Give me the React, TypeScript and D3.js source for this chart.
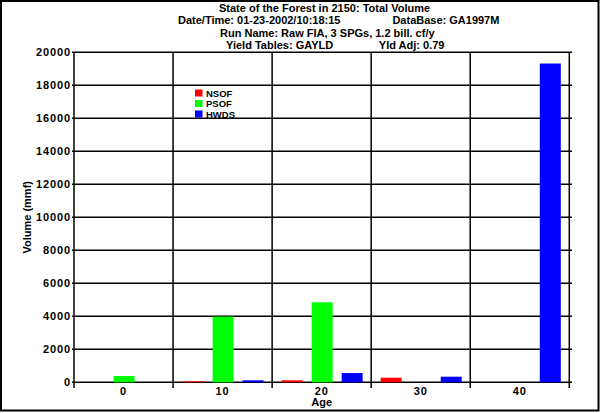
import React from "react";
import * as d3 from "d3";

const ages = ["0", "10", "20", "30", "40"];
const seriesNames = ["NSOF", "PSOF", "HWDS"];
const nsof = [0, 60, 120, 280, 0];
const psof = [380, 3980, 4850, 0, 0];
const hwds = [0, 120, 560, 340, 19320];
const colors = ["#ff0000", "#00ff00", "#0000ff"];
const yTicks = [0, 2000, 4000, 6000, 8000, 10000, 12000, 14000, 16000, 18000, 20000];
const titleLines = [
  "State of the Forest in 2150: Total Volume",
  "Date/Time: 01-23-2002/10:18:15                 DataBase: GA1997M",
  "Run Name: Raw FIA, 3 SPGs, 1.2 bill. cf/y",
  "Yield Tables: GAYLD               Yld Adj: 0.79",
];
const titleStarts = [219, 178, 220, 226];

const W = 600;
const H = 413;
const left = 74;
const right = 569.3;
const top = 52.3;
const bottom = 382.3;

export default function App() {
  const values = [nsof, psof, hwds];
  const x0 = d3.scaleBand<string>().domain(ages).range([left, right]).padding(0);
  const x1 = d3
    .scaleBand<string>()
    .domain(seriesNames)
    .range([5, x0.bandwidth() - 4])
    .paddingInner(0.3)
    .paddingOuter(0.15);
  const y = d3.scaleLinear().domain([0, 20000]).range([bottom, top]);
  const font = "'Liberation Sans', Arial, sans-serif";
  const edges = ages.map((a) => x0(a)!).concat([right]);

  return (
    <svg
      width={W}
      height={H}
      style={{ position: "absolute", left: 0, top: 0, background: "#fff" }}
      fontFamily={font}
    >
      <rect x={0} y={0} width={W} height={H} fill="#fff" />
      <rect x={1} y={1} width={597.5} height={409.5} fill="none" stroke="#000" strokeWidth={2} />
      {titleLines.map((t, i) => (
        <text
          key={i}
          x={titleStarts[i]}
          y={11.5 + i * 12.5}
          textAnchor="start"
          fontSize={11}
          fontWeight="bold"
          style={{ whiteSpace: "pre" }}
        >
          {t}
        </text>
      ))}
      {yTicks.map((v) => (
        <g key={v}>
          <line x1={72} x2={572} y1={y(v)} y2={y(v)} stroke="#000" strokeWidth={1.5} />
          <text
            x={71}
            y={y(v)}
            dy="0.3em"
            textAnchor="end"
            fontSize={11}
            fontWeight="bold"
            letterSpacing={0.9}
          >
            {v}
          </text>
        </g>
      ))}
      {edges.map((ex, i) => (
        <line key={i} x1={ex} x2={ex} y1={top} y2={388} stroke="#000" strokeWidth={1.5} />
      ))}
      {ages.map((a, i) =>
        seriesNames.map((s, j) => {
          const v = values[j][i];
          if (!v) return null;
          return (
            <rect
              key={a + s}
              x={x0(a)! + x1(s)!}
              y={y(v)}
              width={x1.bandwidth()}
              height={bottom - y(v)}
              fill={colors[j]}
            />
          );
        })
      )}
      {ages.map((a) => (
        <text
          key={a}
          x={x0(a)! + x0.bandwidth() / 2}
          y={394.5}
          textAnchor="middle"
          fontSize={11}
          fontWeight="bold"
          letterSpacing={0.9}
        >
          {a}
        </text>
      ))}
      <text x={(left + right) / 2} y={405.5} textAnchor="middle" fontSize={11} fontWeight="bold">
        Age
      </text>
      <text
        transform={`translate(31, ${(top + bottom) / 2}) rotate(-90)`}
        textAnchor="middle"
        fontSize={11}
        fontWeight="bold"
      >
        Volume (mmf)
      </text>
      {seriesNames.map((s, j) => (
        <g key={s} transform={`translate(195, ${89.5 + j * 10.5})`}>
          <rect x={0} y={0} width={7.5} height={7} fill={colors[j]} />
          <text x={11} y={7.4} fontSize={9.5} fontWeight="bold">
            {s}
          </text>
        </g>
      ))}
    </svg>
  );
}
